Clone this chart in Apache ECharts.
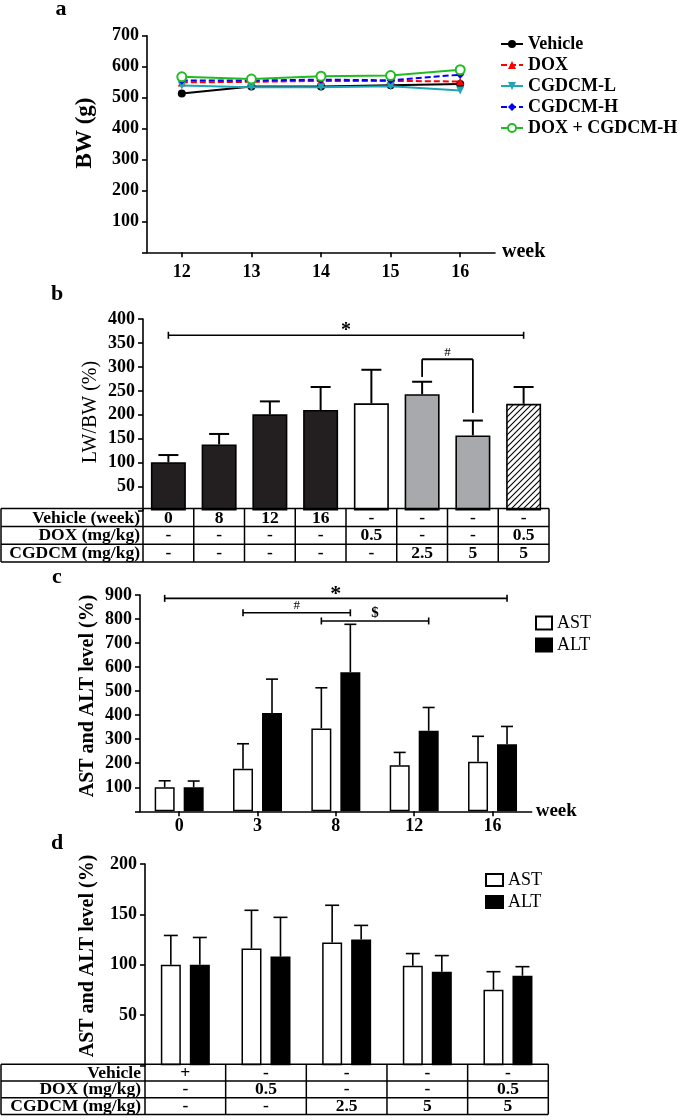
<!DOCTYPE html>
<html><head><meta charset="utf-8">
<script src="https://cdn.jsdelivr.net/npm/echarts@6/dist/echarts.min.js"></script>
<style>html,body{margin:0;padding:0;background:#fff}#c{width:685px;height:1120px}</style>
</head><body><div id="c"></div>
<script>
// ---------- DATA ----------
// panel a: body weight (g) by week
const weeksA = ['12', '13', '14', '15', '16'];
const bwVehicle = [513, 536, 536, 540, 544];
const bwDOX = [549, 551, 554, 554, 552];
const bwCGDCML = [539, 533, 533, 537, 523];
const bwCGDCMH = [555, 555, 558, 556, 574];
const bwCombo = [567, 560, 569, 571, 590];
const seriesNamesA = ['Vehicle', 'DOX', 'CGDCM-L', 'CGDCM-H', 'DOX + CGDCM-H'];

// panel b: LW/BW (%)
const groupsB = ['g1', 'g2', 'g3', 'g4', 'g5', 'g6', 'g7', 'g8'];
const lwbwMean = [101, 138, 201, 210, 224, 243, 157, 223];
const lwbwErr = [15, 22, 27, 48, 70, 26, 31, 35];
const tableLabelsB = ['Vehicle (week)', 'DOX (mg/kg)', 'CGDCM (mg/kg)'];
const vehicleWeekB = ['0', '8', '12', '16', '-', '-', '-', '-'];
const doxB = ['-', '-', '-', '-', '0.5', '-', '-', '0.5'];
const cgdcmB = ['-', '-', '-', '-', '-', '2.5', '5', '5'];
const sigStarB = [0, 7, 366];            // fromBar, toBar, level
const sigHashB = [5, 6, 316, 279, 204];  // fromBar, toBar, top, leftEnd, rightEnd

// panel c: AST / ALT by week
const weeksC = ['0', '3', '8', '12', '16'];
const astC = [100, 177, 345, 192, 206];
const astErrC = [27, 104, 169, 53, 106];
const altC = [100, 409, 579, 335, 279];
const altErrC = [26, 141, 199, 97, 74];
const sigStarC = [0, 4, 886];
const sigHashC = [1, 2, 826];
const sigDollarC = [2, 3, 792];

// panel d: AST / ALT by treatment
const groupsD = ['d1', 'd2', 'd3', 'd4', 'd5'];
const astD = [100, 116, 122, 99, 75];
const astErrD = [29, 38, 37, 12, 18];
const altD = [100, 108, 125, 93, 89];
const altErrD = [27, 39, 14, 16, 9];
const tableLabelsD = ['Vehicle', 'DOX (mg/kg)', 'CGDCM (mg/kg)'];
const vehicleD = ['+', '-', '-', '-', '-'];
const doxD = ['-', '0.5', '-', '-', '0.5'];
const cgdcmD = ['-', '-', '2.5', '5', '5'];

// ---------- STYLE / LAYOUT ----------
const FONT = "'Liberation Serif','Times New Roman',Times,serif";
const GA = {left: 147, top: 35.7, width: 348, height: 216.6};
const GB = {left: 143, top: 319, width: 406, height: 191.6};
const GC = {left: 140, top: 595, width: 391.7, height: 216.3};
const GD = {left: 145, top: 864, width: 403.3, height: 201.3};
const OFF = 14.5; // half distance between grouped bar centers

function hatch() {
  const s = 6, cv = document.createElement('canvas');
  cv.width = s; cv.height = s;
  const x = cv.getContext('2d');
  x.fillStyle = '#fff'; x.fillRect(0, 0, s, s);
  x.strokeStyle = '#000'; x.lineWidth = 1.1;
  x.beginPath();
  x.moveTo(0, s); x.lineTo(s, 0);
  x.moveTo(-1, 1); x.lineTo(1, -1);
  x.moveTo(s - 1, s + 1); x.lineTo(s + 1, s - 1);
  x.stroke();
  return {image: cv, repeat: 'repeat'};
}
const fillsB = ['#231f20', '#231f20', '#231f20', '#231f20', '#ffffff', '#a7a9ac', '#a7a9ac', hatch()];

const axisLine = {show: true, lineStyle: {color: '#000', width: 1.6}};
const axisTick = {show: true, length: 5, lineStyle: {color: '#000', width: 1.6}};
const tickLabel = {color: '#000', fontFamily: FONT, fontWeight: 'bold', fontSize: 18};
const hideZero = v => (v === 0 ? '' : String(v));

function yAxis(gi, max, interval) {
  return {type: 'value', gridIndex: gi, min: 0, max: max, interval: interval,
    axisLine: axisLine, axisTick: axisTick, splitLine: {show: false},
    axisLabel: Object.assign({formatter: hideZero, margin: 8}, tickLabel)};
}

function errSeries(xi, vals, errs, offset, cap, lw) {
  return {
    type: 'custom', xAxisIndex: xi, yAxisIndex: xi, z: 1, silent: true,
    data: vals.map((v, i) => [i, v, v + errs[i]]),
    encode: {x: 0, y: [1, 2]},
    renderItem: (params, api) => {
      const i = api.value(0);
      const p0 = api.coord([i, api.value(1)]);
      const p1 = api.coord([i, api.value(2)]);
      const x = p0[0] + offset;
      const st = {stroke: '#000', lineWidth: lw};
      return {type: 'group', children: [
        {type: 'line', shape: {x1: x, y1: p0[1], x2: x, y2: p1[1]}, style: st},
        {type: 'line', shape: {x1: x - cap / 2, y1: p1[1], x2: x + cap / 2, y2: p1[1]}, style: st}
      ]};
    }
  };
}

const lineColors = ['#000000', '#ff0000', '#1fa5b3', '#0000ff', '#22bb22'];
const lineTypes = ['solid', [6, 3], 'solid', [6, 3], 'solid'];
const lineSymbols = ['circle', 'triangle', 'triangle', 'diamond', 'emptyCircle'];
const lineRot = [0, 0, 180, 0, 0];
const lineData = [bwVehicle, bwDOX, bwCGDCML, bwCGDCMH, bwCombo];

const lineSeries = seriesNamesA.map((n, k) => ({
  type: 'line', name: n, xAxisIndex: 0, yAxisIndex: 0, data: lineData[k],
  symbol: lineSymbols[k], symbolRotate: lineRot[k], symbolSize: k === 4 ? 9 : 8,
  showSymbol: true,
  lineStyle: {color: lineColors[k], width: 2, type: lineTypes[k]},
  itemStyle: k === 4 ? {color: lineColors[k], borderWidth: 2.2}
                     : {color: lineColors[k]},
  z: 3 + k
}));

const chart = echarts.init(document.getElementById('c'));
const hideAxisCat = (gi, data) => ({type: 'category', gridIndex: gi, data: data,
  axisLine: {show: false}, axisTick: {show: false}, axisLabel: {show: false}, splitLine: {show: false}});

chart.setOption({
  animation: false,
  backgroundColor: '#fff',
  grid: [
    Object.assign({outerBoundsMode: 'none', containLabel: false}, GA),
    Object.assign({outerBoundsMode: 'none', containLabel: false}, GB),
    Object.assign({outerBoundsMode: 'none', containLabel: false}, GC),
    Object.assign({outerBoundsMode: 'none', containLabel: false}, GD)
  ],
  xAxis: [
    {type: 'category', gridIndex: 0, data: weeksA, boundaryGap: true,
      axisLine: axisLine, axisTick: Object.assign({alignWithLabel: true}, axisTick),
      axisLabel: Object.assign({margin: 11}, tickLabel),
      name: 'week', nameLocation: 'end', nameGap: 7,
      nameTextStyle: {color: '#000', fontFamily: FONT, fontWeight: 'bold', fontSize: 20, verticalAlign: 'middle', padding: [4, 0, 0, 0]}},
    hideAxisCat(1, groupsB),
    {type: 'category', gridIndex: 2, data: weeksC, boundaryGap: true,
      axisLine: axisLine, axisTick: Object.assign({alignWithLabel: true}, axisTick),
      axisLabel: Object.assign({margin: 6}, tickLabel),
      name: 'week', nameLocation: 'end', nameGap: 4,
      nameTextStyle: {color: '#000', fontFamily: FONT, fontWeight: 'bold', fontSize: 19, verticalAlign: 'middle', padding: [2, 0, 0, 0]}},
    hideAxisCat(3, groupsD)
  ],
  yAxis: [yAxis(0, 700, 100), yAxis(1, 400, 50), yAxis(2, 900, 100), yAxis(3, 200, 50)],
  legend: [
    {data: seriesNamesA, orient: 'vertical', left: 495, top: 30, itemWidth: 22, itemHeight: 10, itemGap: 3,
      textStyle: {color: '#000', fontFamily: FONT, fontWeight: 'bold', fontSize: 18}},
    {data: ['AST', 'ALT'], orient: 'vertical', left: 530, top: 609, icon: 'rect', itemWidth: 16, itemHeight: 13, itemGap: 4,
      textStyle: {color: '#000', fontFamily: FONT, fontSize: 18}},
    {data: ['AST', 'ALT'], orient: 'vertical', left: 480, top: 866, icon: 'rect', itemWidth: 17, itemHeight: 12, itemGap: 4,
      textStyle: {color: '#000', fontFamily: FONT, fontSize: 18}}
  ],
  series: lineSeries.concat([
    {type: 'bar', name: 'LW/BW', xAxisIndex: 1, yAxisIndex: 1, barWidth: 35, z: 2,
      data: lwbwMean.map((v, i) => ({value: v, itemStyle: {color: fillsB[i], borderColor: '#000', borderWidth: 1.6}}))},
    errSeries(1, lwbwMean, lwbwErr, 0, 20, 2),
    {type: 'bar', name: 'AST', xAxisIndex: 2, yAxisIndex: 2, barWidth: 20, barGap: '45%', z: 2,
      itemStyle: {color: '#fff', borderColor: '#000', borderWidth: 1.5}, data: astC},
    {type: 'bar', name: 'ALT', xAxisIndex: 2, yAxisIndex: 2, barWidth: 20, barGap: '45%', z: 2,
      itemStyle: {color: '#000', borderColor: '#000', borderWidth: 1.5}, data: altC},
    errSeries(2, astC, astErrC, -OFF, 12, 1.6),
    errSeries(2, altC, altErrC, OFF, 12, 1.6),
    {type: 'bar', name: 'AST', xAxisIndex: 3, yAxisIndex: 3, barWidth: 20, barGap: '45%', z: 2,
      itemStyle: {color: '#fff', borderColor: '#000', borderWidth: 1.5}, data: astD},
    {type: 'bar', name: 'ALT', xAxisIndex: 3, yAxisIndex: 3, barWidth: 20, barGap: '45%', z: 2,
      itemStyle: {color: '#000', borderColor: '#000', borderWidth: 1.5}, data: altD},
    errSeries(3, astD, astErrD, -OFF, 14, 1.6),
    errSeries(3, altD, altErrD, OFF, 14, 1.6)
  ])
});

// ---------- annotations via library pixel conversion ----------
const px = (gi, x, y) => chart.convertToPixel({xAxisIndex: gi, yAxisIndex: gi}, [x, y]);
const G = [];
function ln(x1, y1, x2, y2, w) { G.push({type: 'line', shape: {x1, y1, x2, y2}, style: {stroke: '#000', lineWidth: w || 1.6}, z: 10}); }
function tx(t, x, y, font, align, rot) {
  G.push({type: 'text', x: x, y: y, rotation: rot || 0, z: 10,
    style: {text: t, font: font, fill: '#000', textAlign: align || 'center', textVerticalAlign: 'middle', align: align || 'center', verticalAlign: 'middle'}});
}

// panel letters
tx('a', 61, 9, 'bold 22px ' + FONT);
tx('b', 57, 294, 'bold 22px ' + FONT);
tx('c', 57, 577, 'bold 22px ' + FONT);
tx('d', 57, 843, 'bold 22px ' + FONT);

// axis titles
tx('BW (g)', 85, 133, 'bold 23px ' + FONT, 'center', Math.PI / 2);
tx('LW/BW (%)', 91, 412, '20px ' + FONT, 'center', Math.PI / 2);
tx('AST and ALT level (%)', 88, 696, 'bold 20px ' + FONT, 'center', Math.PI / 2);
tx('AST and ALT level (%)', 88, 956, 'bold 20px ' + FONT, 'center', Math.PI / 2);

function sigLine(gi, xa, xb, level, label, font, dy, offA, offB) {
  const a = px(gi, xa, level), b = px(gi, xb, level);
  const x1 = a[0] + (offA || 0), x2 = b[0] + (offB || 0), y = a[1];
  ln(x1, y, x2, y, 1.6); ln(x1, y - 3.5, x1, y + 3.5, 1.6); ln(x2, y - 3.5, x2, y + 3.5, 1.6);
  tx(label, (x1 + x2) / 2, y - dy, font);
}
sigLine(1, sigStarB[0], sigStarB[1], sigStarB[2], '*', 'bold 20px ' + FONT, 4);
(function () {
  const t1 = px(1, sigHashB[0], sigHashB[2]), t2 = px(1, sigHashB[1], sigHashB[2]);
  const e1 = px(1, sigHashB[0], sigHashB[3]), e2 = px(1, sigHashB[1], sigHashB[4]);
  ln(t1[0], e1[1], t1[0], t1[1], 1.8); ln(t1[0], t1[1], t2[0], t2[1], 1.8); ln(t2[0], t2[1], t2[0], e2[1], 1.8);
  tx('#', (t1[0] + t2[0]) / 2, t1[1] - 7, '13px ' + FONT);
})();

sigLine(2, sigStarC[0], sigStarC[1], sigStarC[2], '*', 'bold 22px ' + FONT, 4, -OFF, OFF);
sigLine(2, sigHashC[0], sigHashC[1], sigHashC[2], '#', '13px ' + FONT, 7, -OFF, OFF);
sigLine(2, sigDollarC[0], sigDollarC[1], sigDollarC[2], '$', 'bold 15px ' + FONT, 8, -OFF, OFF);

function table(gi, grid, rowTop, rowH, labels, rows, labelRight) {
  const n = rows[0].length;
  const right = grid.left + grid.width;
  const bottom = rowTop + rowH * labels.length;
  for (let r = 0; r <= labels.length; r++) ln(1, rowTop + r * rowH, right, rowTop + r * rowH, 1.5);
  ln(1, rowTop, 1, bottom, 1.5);
  ln(grid.left, rowTop, grid.left, bottom, 1.5);
  const cw = grid.width / n;
  for (let c = 1; c <= n; c++) ln(grid.left + c * cw, rowTop, grid.left + c * cw, bottom, 1.5);
  for (let r = 0; r < labels.length; r++) {
    const cy = rowTop + (r + 0.5) * rowH + 0.5;
    tx(labels[r], labelRight, cy, 'bold 17.5px ' + FONT, 'right');
    for (let c = 0; c < n; c++) {
      const cx = px(gi, c, 0)[0];
      tx(rows[r][c], cx, cy, 'bold 17.5px ' + FONT);
    }
  }
}
table(1, GB, GB.top + GB.height - 2, 17.8, tableLabelsB, [vehicleWeekB, doxB, cgdcmB], 140);
table(3, GD, GD.top + GD.height - 1, 16.7, tableLabelsD, [vehicleD, doxD, cgdcmD], 141);

chart.setOption({graphic: {elements: G}});
</script>
</body></html>
